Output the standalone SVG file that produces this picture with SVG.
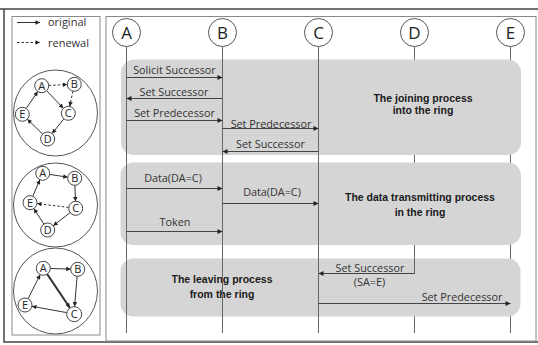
<svg xmlns="http://www.w3.org/2000/svg" width="538" height="345" viewBox="0 0 538 345">
  <style>
    .frame { fill: none; stroke: #444; stroke-width: 1.5; }
    .panel { fill: #fff; stroke: #8a8a8a; stroke-width: 1; }
    .box { fill: #d5d5d5; }
    .life { stroke: #666; stroke-width: 1; fill: none; }
    .head { fill: #fff; stroke: #555; stroke-width: 1; }
    .headtxt { font-family: "Open Sans", "Noto Sans", sans-serif; font-size: 17px; fill: #222; text-anchor: middle; }
    .msg { stroke: #444; stroke-width: 1; fill: none; marker-end: url(#arr); }
    .lbl { font-family: "Open Sans", "Noto Sans", sans-serif; font-size: 10.8px; fill: #333; text-anchor: middle; }
    .title { font-family: "Liberation Sans", Arial, sans-serif; font-size: 10.5px; font-weight: bold; fill: #1a1a1a; text-anchor: middle; }
    .ring { fill: none; stroke: #555; stroke-width: 1; }
    .node { fill: #fff; stroke: #444; stroke-width: 1; }
    .ntxt { font-family: "Open Sans", "Noto Sans", sans-serif; font-size: 11px; fill: #222; text-anchor: middle; }
    .edge { stroke: #333; stroke-width: 1; fill: none; marker-end: url(#arrs); }
    .dash { stroke-dasharray: 2.5 2; }
    .thick { stroke-width: 2; }
    .legend { font-family: "Open Sans", "Noto Sans", sans-serif; font-size: 11px; fill: #333; }
  </style>
  <defs>
    <marker id="arr" viewBox="0 0 10 10" refX="10" refY="5" markerWidth="6" markerHeight="5" markerUnits="userSpaceOnUse" orient="auto">
      <path d="M0,0 L10,5 L0,10 z" fill="#222"/>
    </marker>
    <marker id="arrs" viewBox="0 0 10 10" refX="10" refY="5" markerWidth="5" markerHeight="4.5" markerUnits="userSpaceOnUse" orient="auto">
      <path d="M0,0 L10,5 L0,10 z" fill="#222"/>
    </marker>
  </defs>

  <rect width="538" height="345" fill="#fff"/>

  <!-- outer frame and the two panels -->
  <path class="frame" d="M0,9 H538 M4,9 V342 H538"/>
  <rect class="panel" x="12" y="16.5" width="88" height="318.5"/>
  <rect class="panel" x="106" y="16.5" width="430" height="324.5"/>

  <!-- legend -->
  <g id="legend">
    <line class="edge" x1="17" y1="22.5" x2="40" y2="22.5"/>
    <text class="legend" x="48" y="26">original</text>
    <line class="edge dash" x1="17" y1="42.5" x2="40" y2="42.5"/>
    <text class="legend" x="48" y="46.5">renewal</text>
  </g>

  <!-- ring 1: B joins between A and C -->
  <g id="ring-join">
    <ellipse class="ring" cx="55.5" cy="113" rx="42" ry="43"/>
    <g class="connectors">
      <line class="edge dash" x1="48.7" y1="85.4" x2="67.3" y2="84.6"/>
      <line class="edge" x1="46.6" y1="90.7" x2="63.4" y2="108.3"/>
      <line class="edge dash" x1="72.9" y1="91.2" x2="69.7" y2="106.4"/>
      <line class="edge" x1="63.9" y1="118.8" x2="52.1" y2="133.5"/>
      <line class="edge" x1="42.7" y1="134.1" x2="27.3" y2="119.2"/>
      <line class="edge" x1="26.2" y1="108.5" x2="37.8" y2="91.5"/>
    </g>
    <g id="r1-A"><circle class="node" cx="41.7" cy="85.7" r="7"/><text class="ntxt" x="41.7" y="89.6">A</text></g>
    <g id="r1-B"><circle class="node" cx="74.3" cy="84.3" r="7"/><text class="ntxt" x="74.3" y="88.2">B</text></g>
    <g id="r1-C"><circle class="node" cx="68.3" cy="113.3" r="7"/><text class="ntxt" x="68.3" y="117.2">C</text></g>
    <g id="r1-D"><circle class="node" cx="47.7" cy="139" r="7"/><text class="ntxt" x="47.7" y="142.9">D</text></g>
    <g id="r1-E"><circle class="node" cx="22.3" cy="114.3" r="7"/><text class="ntxt" x="22.3" y="118.2">E</text></g>
  </g>

  <!-- ring 2: C sends data towards E -->
  <g id="ring-data">
    <ellipse class="ring" cx="55.5" cy="205" rx="42" ry="42"/>
    <g class="connectors">
      <line class="edge" x1="49.6" y1="174.4" x2="67.8" y2="177.2"/>
      <line class="edge" x1="74.9" y1="185.3" x2="75.5" y2="201.3"/>
      <line class="edge dash" x1="68.7" y1="207.4" x2="37" y2="203.6"/>
      <line class="edge" x1="70.2" y1="212.6" x2="53.2" y2="225.7"/>
      <line class="edge" x1="43.9" y1="224.1" x2="33.8" y2="208.6"/>
      <line class="edge" x1="32.8" y1="196.3" x2="39.9" y2="179.7"/>
    </g>
    <g id="r2-A"><circle class="node" cx="42.7" cy="173.3" r="7"/><text class="ntxt" x="42.7" y="177.2">A</text></g>
    <g id="r2-B"><circle class="node" cx="74.7" cy="178.3" r="7"/><text class="ntxt" x="74.7" y="182.2">B</text></g>
    <g id="r2-C"><circle class="node" cx="75.7" cy="208.3" r="7"/><text class="ntxt" x="75.7" y="212.2">C</text></g>
    <g id="r2-D"><circle class="node" cx="47.7" cy="230" r="7"/><text class="ntxt" x="47.7" y="233.9">D</text></g>
    <g id="r2-E"><circle class="node" cx="30" cy="202.7" r="7"/><text class="ntxt" x="30" y="206.6">E</text></g>
  </g>

  <!-- ring 3: D has left, A links straight to C -->
  <g id="ring-leave">
    <ellipse class="ring" cx="55.5" cy="291" rx="42" ry="43"/>
    <g class="connectors">
      <line class="edge" x1="50.3" y1="268.5" x2="70.7" y2="269.1"/>
      <line class="edge" x1="77.1" y1="276.3" x2="74.6" y2="306.5"/>
      <line class="edge thick" x1="47.2" y1="274.1" x2="69.8" y2="307.7"/>
      <line class="edge" x1="66.6" y1="312.6" x2="31.9" y2="306.3"/>
      <line class="edge" x1="28.1" y1="298.7" x2="40.2" y2="274.6"/>
    </g>
    <g id="r3-A"><circle class="node" cx="43.3" cy="268.3" r="7"/><text class="ntxt" x="43.3" y="272.2">A</text></g>
    <g id="r3-B"><circle class="node" cx="77.7" cy="269.3" r="7"/><text class="ntxt" x="77.7" y="273.2">B</text></g>
    <g id="r3-C"><circle class="node" cx="74.2" cy="314.2" r="7.5"/><text class="ntxt" x="74.2" y="318.1">C</text></g>
    <g id="r3-E"><circle class="node" cx="25" cy="305" r="7"/><text class="ntxt" x="25" y="308.9">E</text></g>
  </g>

  <!-- lifelines of D and E sit beneath the phase boxes -->
  <g id="lifelines-back">
    <line class="life" x1="414.5" y1="46.5" x2="414.5" y2="333"/>
    <line class="life" x1="510.5" y1="46.5" x2="510.5" y2="333"/>
  </g>

  <!-- phase boxes -->
  <g id="phase-join">
    <rect class="box" x="121" y="59.5" width="400" height="95.5" rx="13"/>
    <text class="title" x="423" y="102.3">The joining process</text>
    <text class="title" x="423" y="114.2">into the ring</text>
  </g>
  <g id="phase-data">
    <rect class="box" x="120.5" y="162.5" width="400.5" height="82.5" rx="13"/>
    <text class="title" x="420" y="201">The data transmitting process</text>
    <text class="title" x="420" y="216">in the ring</text>
  </g>
  <g id="phase-leave">
    <rect class="box" x="120.5" y="258.5" width="400" height="58" rx="13"/>
    <text class="title" x="222" y="283">The leaving process</text>
    <text class="title" x="222" y="298">from the ring</text>
  </g>

  <!-- lifelines of A, B, C on top of the boxes; D shown inside the leaving phase -->
  <g id="lifelines-front">
    <line class="life" x1="126.5" y1="46.5" x2="126.5" y2="333"/>
    <line class="life" x1="222.5" y1="46.5" x2="222.5" y2="333"/>
    <line class="life" x1="318.5" y1="46.5" x2="318.5" y2="333"/>
    <line class="life" x1="414.5" y1="258.5" x2="414.5" y2="274"/>
  </g>

  <!-- participant heads -->
  <g id="node-A"><circle class="head" cx="126.5" cy="32.5" r="14"/><text class="headtxt" x="126.5" y="38.8">A</text></g>
  <g id="node-B"><circle class="head" cx="222.5" cy="32.5" r="14"/><text class="headtxt" x="222.5" y="38.8">B</text></g>
  <g id="node-C"><circle class="head" cx="318.5" cy="32.5" r="14"/><text class="headtxt" x="318.5" y="38.8">C</text></g>
  <g id="node-D"><circle class="head" cx="414.5" cy="32.5" r="14"/><text class="headtxt" x="414.5" y="38.8">D</text></g>
  <g id="node-E"><circle class="head" cx="510.5" cy="32.5" r="14"/><text class="headtxt" x="510.5" y="38.8">E</text></g>

  <!-- messages -->
  <g id="connectors">
    <line class="msg" x1="126.5" y1="77.5" x2="222.5" y2="77.5"/>
    <line class="msg" x1="222.5" y1="98.5" x2="126.5" y2="98.5"/>
    <line class="msg" x1="126.5" y1="120.5" x2="222.5" y2="120.5"/>
    <line class="msg" x1="222.5" y1="128.5" x2="318.5" y2="128.5"/>
    <line class="msg" x1="318.5" y1="151.5" x2="222.5" y2="151.5"/>
    <line class="msg" x1="126.5" y1="188.5" x2="222.5" y2="188.5"/>
    <line class="msg" x1="222.5" y1="203.5" x2="318.5" y2="203.5"/>
    <line class="msg" x1="126.5" y1="231.5" x2="222.5" y2="231.5"/>
    <line class="msg" x1="414.5" y1="273.5" x2="318.5" y2="273.5"/>
    <line class="msg" x1="318.5" y1="303.5" x2="510.5" y2="303.5"/>
  </g>

  <!-- message labels -->
  <g id="labels">
    <text class="lbl" x="174.5" y="73.5">Solicit Successor</text>
    <text class="lbl" x="174" y="95.7">Set Successor</text>
    <text class="lbl" x="174.5" y="116.7">Set Predecessor</text>
    <text class="lbl" x="271" y="127.5">Set Predecessor</text>
    <text class="lbl" x="270.5" y="147.7">Set Successor</text>
    <text class="lbl" x="173" y="181.5">Data(DA=C)</text>
    <text class="lbl" x="272" y="195.5">Data(DA=C)</text>
    <text class="lbl" x="175" y="225.7">Token</text>
    <text class="lbl" x="370" y="272.3">Set Successor</text>
    <text class="lbl" x="369.5" y="286">(SA=E)</text>
    <text class="lbl" x="462" y="300.7">Set Predecessor</text>
  </g>
</svg>
